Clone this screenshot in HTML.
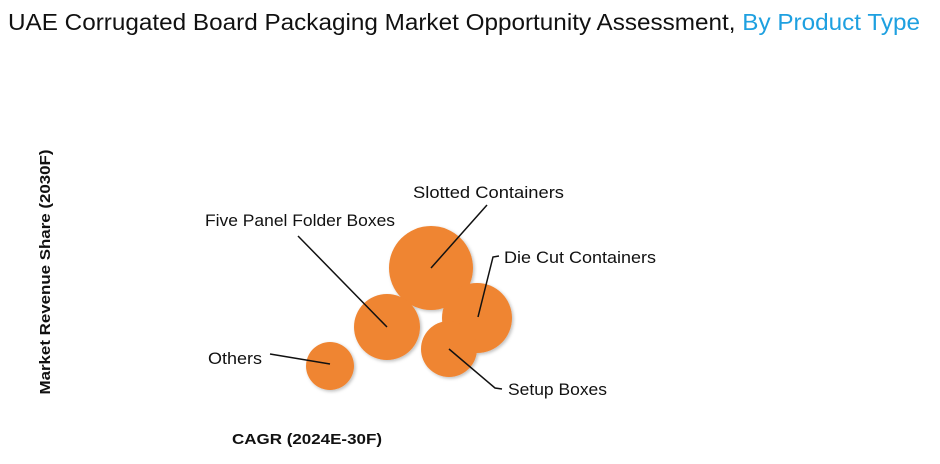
<!DOCTYPE html>
<html><head><meta charset="utf-8"><style>
body{margin:0;background:#fff;width:940px;height:459px;overflow:hidden}
</style></head><body>
<svg width="940" height="459" xmlns="http://www.w3.org/2000/svg" font-family="Liberation Sans, sans-serif">
<defs><filter id="s" x="-20%" y="-20%" width="150%" height="150%"><feDropShadow dx="1.5" dy="1.5" stdDeviation="1.5" flood-color="#000" flood-opacity="0.25"/></filter></defs>
<text x="8" y="30" font-size="23" fill="#111" textLength="912" lengthAdjust="spacingAndGlyphs">UAE Corrugated Board Packaging Market Opportunity Assessment, <tspan fill="#1ea0e0">By Product Type</tspan></text>
<text transform="translate(50,272) rotate(-90)" text-anchor="middle" font-size="15" font-weight="bold" fill="#111" textLength="245" lengthAdjust="spacingAndGlyphs">Market Revenue Share (2030F)</text>
<text x="232" y="444" font-size="15" font-weight="bold" fill="#111" textLength="150" lengthAdjust="spacingAndGlyphs">CAGR (2024E-30F)</text>
<g fill="#ef8532" filter="url(#s)">
<circle cx="431" cy="268" r="42"/>
<circle cx="477" cy="318" r="35"/>
<circle cx="387" cy="327" r="33"/>
<circle cx="449" cy="349" r="28"/>
<circle cx="330" cy="366" r="24"/>
</g>
<g stroke="#111" stroke-width="1.5" fill="none">
<line x1="431" y1="268" x2="487" y2="205"/>
<line x1="387" y1="327" x2="298" y2="236"/>
<polyline points="478,317 493,257 499,256"/>
<polyline points="449,349 495,388 502,389"/>
<line x1="270" y1="354" x2="330" y2="364"/>
</g>
<g font-size="17" fill="#111" lengthAdjust="spacingAndGlyphs">
<text x="413" y="198" textLength="151" lengthAdjust="spacingAndGlyphs">Slotted Containers</text>
<text x="205" y="226" textLength="190" lengthAdjust="spacingAndGlyphs">Five Panel Folder Boxes</text>
<text x="504" y="263" textLength="152" lengthAdjust="spacingAndGlyphs">Die Cut Containers</text>
<text x="508" y="395" textLength="99" lengthAdjust="spacingAndGlyphs">Setup Boxes</text>
<text x="208" y="364" textLength="54" lengthAdjust="spacingAndGlyphs">Others</text>
</g>
</svg>
</body></html>
